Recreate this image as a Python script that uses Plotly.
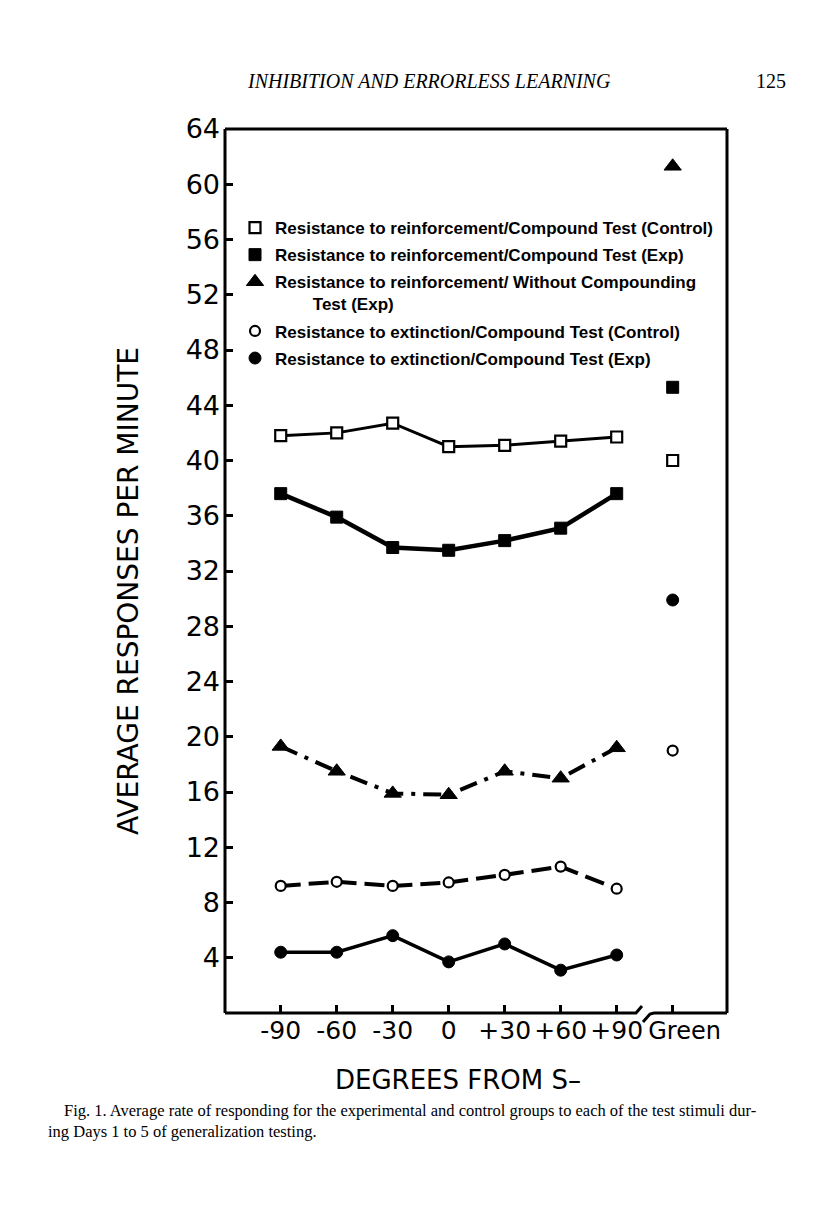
import plotly.graph_objects as go

# ---- data ----
degrees = ["-90", "-60", "-30", "0", "+30", "+60", "+90"]
test_label = "Green"

reinf_control = [41.8, 42.0, 42.7, 41.0, 41.1, 41.4, 41.7]
reinf_control_green = 40.0
reinf_exp = [37.6, 35.9, 33.7, 33.5, 34.2, 35.1, 37.6]
reinf_exp_green = 45.3
reinf_nocomp_exp = [19.3, 17.5, 15.9, 15.8, 17.5, 17.0, 19.2]
reinf_nocomp_green = 61.3
ext_control = [9.2, 9.5, 9.2, 9.45, 10.0, 10.6, 9.0]
ext_control_green = 19.0
ext_exp = [4.4, 4.4, 5.6, 3.7, 5.0, 3.1, 4.2]
ext_exp_green = 29.9

y_ticks = list(range(4, 65, 4))

names = [
    "Resistance to reinforcement/Compound Test (Control)",
    "Resistance to reinforcement/Compound Test (Exp)",
    "Resistance to reinforcement/ Without Compounding<br>" + "\u00a0" * 8 + "Test (Exp)",
    "Resistance to extinction/Compound Test (Control)",
    "Resistance to extinction/Compound Test (Exp)",
]

# ---- layout geometry (absolute page pixels; page body has an 8px margin) ----
W, H = 816, 1207
OFF = 8
L, R, T, B = 225, 727, 129, 1013
pw, ph = R - L, B - T


def px(x):
    return (x - L) / pw


def py(y):
    return (B - y) / ph


xi = list(range(len(degrees)))
x_green = len(degrees)

series = [
    (reinf_control, reinf_control_green, dict(symbol="square", size=11, color="white",
                                              line=dict(color="black", width=2.2)),
     dict(color="black", width=3)),
    (reinf_exp, reinf_exp_green, dict(symbol="square", size=12, color="black",
                                      line=dict(color="black", width=1)),
     dict(color="black", width=4.5)),
    (reinf_nocomp_exp, reinf_nocomp_green, dict(symbol="triangle-up", size=15, color="black",
                                                line=dict(color="black", width=1)),
     dict(color="black", width=4, dash="18px,8px,4px,8px")),
    (ext_control, ext_control_green, dict(symbol="circle", size=10, color="white",
                                          line=dict(color="black", width=2.2)),
     dict(color="black", width=4, dash="20px,8px")),
    (ext_exp, ext_exp_green, dict(symbol="circle", size=12, color="black",
                                  line=dict(color="black", width=1)),
     dict(color="black", width=3.5)),
]

fig = go.Figure()
for k, (vals, g, mk, ln) in enumerate(series):
    fig.add_trace(go.Scatter(x=xi, y=vals, mode="lines+markers", marker=mk, line=ln,
                             showlegend=False, legendgroup=f"g{k}", hoverinfo="y"))
for k, (vals, g, mk, ln) in enumerate(series):
    fig.add_trace(go.Scatter(x=[x_green], y=[g], mode="markers", marker=mk,
                             name=names[k], legendgroup=f"g{k}", hoverinfo="y"))

# frame and broken bottom axis
frame = dict(type="line", xref="paper", yref="paper", line=dict(color="black", width=3))
shapes = [
    dict(frame, x0=0, y0=0, x1=0, y1=1),
    dict(frame, x0=0, y0=1, x1=1, y1=1),
    dict(frame, x0=1, y0=0, x1=1, y1=1),
    dict(type="path", xref="paper", yref="paper", line=dict(color="black", width=3),
         path=f"M 0 0 L {px(636)} 0 L {px(642)} {py(1006)}"),
    dict(type="path", xref="paper", yref="paper", line=dict(color="black", width=3),
         path=f"M {px(643)} {py(1022)} L {px(650)} {py(1014)} L {px(654)} 0 L 1 0"),
]

tick_text = degrees + ['\u00a0\u00a0\u00a0<span style="font-size:24px">' + test_label + "</span>"]

annotations = [
    dict(text="AVERAGE RESPONSES PER MINUTE", xref="paper", yref="paper",
         x=px(128), y=py(591), textangle=-90, showarrow=False,
         font=dict(family="DejaVu Sans", size=28, color="black"),
         xanchor="center", yanchor="middle"),
    dict(text="DEGREES FROM S\u2013", xref="paper", yref="paper",
         x=px(458), y=py(1080), showarrow=False,
         font=dict(family="DejaVu Sans", size=26, color="black"),
         xanchor="center", yanchor="middle"),
    dict(text="<i>INHIBITION AND ERRORLESS LEARNING</i>", xref="paper", yref="paper",
         x=px(429), y=py(81), showarrow=False,
         font=dict(family="Liberation Serif", size=20, color="black"),
         xanchor="center", yanchor="middle"),
    dict(text="125", xref="paper", yref="paper",
         x=px(771), y=py(81), showarrow=False,
         font=dict(family="Liberation Serif", size=20, color="black"),
         xanchor="center", yanchor="middle"),
    dict(text="Fig. 1. Average rate of responding for the experimental and control groups to each of the test stimuli dur-",
         xref="paper", yref="paper", x=px(62), y=py(1110), showarrow=False,
         font=dict(family="Liberation Serif", size=16.5, color="black"),
         xanchor="left", yanchor="middle"),
    dict(text="ing Days 1 to 5 of generalization testing.",
         xref="paper", yref="paper", x=px(46), y=py(1131), showarrow=False,
         font=dict(family="Liberation Serif", size=16.5, color="black"),
         xanchor="left", yanchor="middle"),
]

fig.update_layout(
    width=W - OFF, height=H - OFF,
    margin=dict(l=L - OFF, r=W - R, t=T - OFF, b=H - B, pad=0),
    paper_bgcolor="white", plot_bgcolor="white",
    shapes=shapes, annotations=annotations,
    legend=dict(x=px(235), y=py(210), xanchor="left", yanchor="top",
                bgcolor="rgba(0,0,0,0)", borderwidth=0,
                font=dict(family="Liberation Sans", size=17, color="black", weight="bold"),
                valign="top", traceorder="grouped", tracegroupgap=2),
    xaxis=dict(range=[-0.995, 7.97], tickvals=xi + [x_green], ticktext=tick_text,
               tickangle=0,
               showgrid=False, zeroline=False, showline=False,
               ticks="inside", ticklen=8, tickwidth=3, tickcolor="black",
               tickfont=dict(family="DejaVu Sans", size=25, color="black")),
    yaxis=dict(range=[0, 64], tickvals=y_ticks, showgrid=False, zeroline=False,
               showline=False, ticks="inside", ticklen=8, tickwidth=3, tickcolor="black",
               ticklabelstandoff=4,
               tickfont=dict(family="DejaVu Sans", size=27, color="black")),
)

fig.write_html("out.html")
